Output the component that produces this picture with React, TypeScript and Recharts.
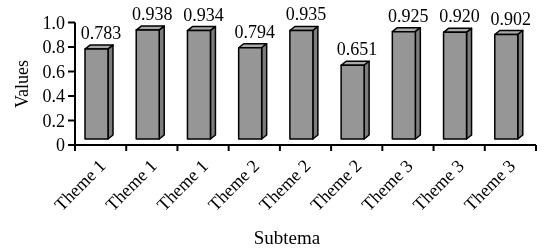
import React from 'react';
import { BarChart, Bar, XAxis, YAxis, LabelList, Label } from 'recharts';

const categories = ['Theme 1', 'Theme 1', 'Theme 1', 'Theme 2', 'Theme 2', 'Theme 2', 'Theme 3', 'Theme 3', 'Theme 3'];
const values = [0.783, 0.938, 0.934, 0.794, 0.935, 0.651, 0.925, 0.92, 0.902];
const yTicks = [0, 0.2, 0.4, 0.6, 0.8, 1.0];

const data = categories.map((name, i) => ({ name, value: values[i] }));

const FONT = '"Liberation Serif", "Times New Roman", serif';
const W = 546;
const H = 252;
const PLOT_LEFT = 75;
const PLOT_RIGHT = 10;
const AXIS_Y = 145;
const STEP = (W - PLOT_LEFT - PLOT_RIGHT) / categories.length;

// 3D-looking column: front face, top face and right side
const Bar3D = (props: any) => {
  const { x, y, width, height } = props;
  const dx = 5;
  const dy = 4;
  const left = x - 2;
  const fw = width - dx;
  const bottom = y + height - 6;
  return (
    <g stroke="#000" strokeWidth={1.5} strokeLinejoin="round">
      <polygon
        points={`${left},${y} ${left + dx},${y - dy} ${left + fw + dx},${y - dy} ${left + fw},${y}`}
        fill="#a9a9a9"
      />
      <polygon
        points={`${left + fw},${y} ${left + fw + dx},${y - dy} ${left + fw + dx},${bottom - dy} ${left + fw},${bottom}`}
        fill="#7c7c7c"
      />
      <rect x={left} y={y} width={fw} height={bottom - y} fill="#969696" />
    </g>
  );
};

const XTick = (props: any) => {
  const { x, payload, index } = props;
  const left = x - STEP / 2;
  const tx = x + 6;
  const ty = AXIS_Y + 22;
  return (
    <g>
      <line x1={left} y1={AXIS_Y} x2={left} y2={AXIS_Y + 6} stroke="#000" strokeWidth={2} />
      {index === categories.length - 1 && (
        <line x1={left + STEP} y1={AXIS_Y} x2={left + STEP} y2={AXIS_Y + 6} stroke="#000" strokeWidth={2} />
      )}
      <text
        x={tx}
        y={ty}
        transform={`rotate(-45, ${tx}, ${ty})`}
        textAnchor="end"
        fontSize={18}
        fontFamily={FONT}
        fill="#000"
      >
        {payload.value}
      </text>
    </g>
  );
};

export default function App() {
  return (
    <div style={{ position: 'absolute', left: 0, top: 0, width: W, height: H, willChange: 'transform' }}>
      <BarChart
        width={W}
        height={H}
        data={data}
        margin={{ top: 22.5, right: PLOT_RIGHT, bottom: 0, left: 0 }}
        barSize={28}
      >
        <XAxis
          dataKey="name"
          height={H - AXIS_Y}
          axisLine={{ stroke: '#000', strokeWidth: 2 }}
          tickLine={false}
          tick={<XTick />}
          interval={0}
        >
          <Label
            content={() => (
              <text x={287} y={244} textAnchor="middle" fontSize={19} fontFamily={FONT} fill="#000">
                Subtema
              </text>
            )}
          />
        </XAxis>
        <YAxis
          width={PLOT_LEFT}
          domain={[0, 1]}
          ticks={yTicks}
          interval={0}
          axisLine={{ stroke: '#000', strokeWidth: 2 }}
          tickLine={{ stroke: '#000', strokeWidth: 2 }}
          tickSize={7}
          tickMargin={3}
          tickFormatter={(v: number) => (v === 0 ? '0' : v.toFixed(1))}
          tick={{ fill: '#000', fontSize: 18, fontFamily: FONT }}
        >
          <Label
            content={() => (
              <text
                x={27.5}
                y={84}
                transform="rotate(-90, 27.5, 84)"
                textAnchor="middle"
                fontSize={18}
                fontFamily={FONT}
                fill="#000"
              >
                Values
              </text>
            )}
          />
        </YAxis>
        <Bar dataKey="value" shape={<Bar3D />} isAnimationActive={false}>
          <LabelList
            dataKey="value"
            position="top"
            offset={10}
            formatter={(v: any) => Number(v).toFixed(3)}
            fill="#000"
            fontSize={18}
            fontFamily={FONT}
          />
        </Bar>
      </BarChart>
    </div>
  );
}
